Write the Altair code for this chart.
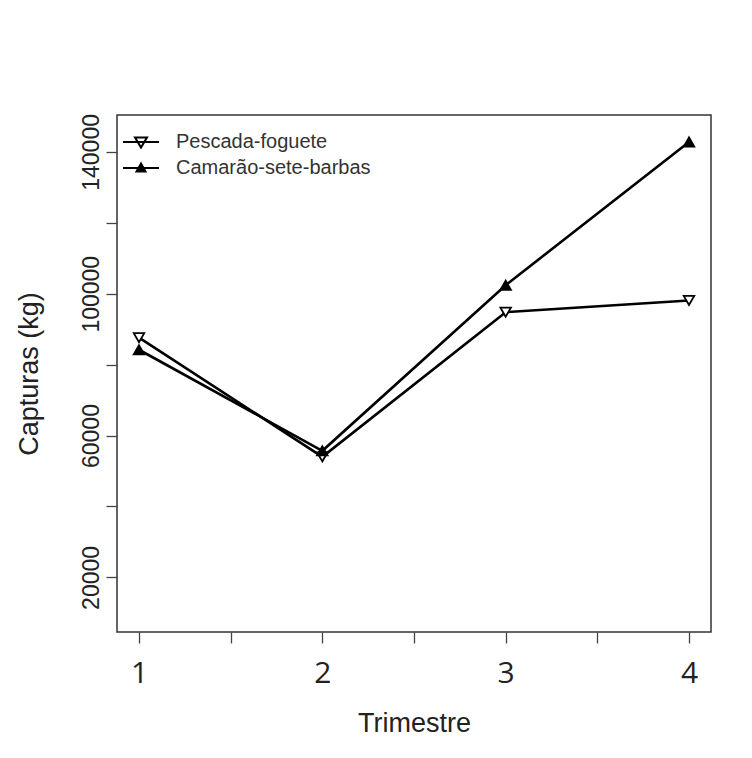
import altair as alt
import pandas as pd

trimestre = [1, 2, 3, 4]
pescada = [87600, 54000, 94800, 98100]
camarao = [84200, 55700, 102400, 142800]
series = ["Pescada-foguete", "Camarão-sete-barbas"]

y_ticks = [20000, 40000, 60000, 80000, 100000, 120000, 140000]
x_ticks = [1, 1.5, 2, 2.5, 3, 3.5, 4]

rows = []
for t, v in zip(trimestre, pescada):
    rows.append({"Trimestre": t, "Capturas": v, "Serie": series[0]})
for t, v in zip(trimestre, camarao):
    rows.append({"Trimestre": t, "Capturas": v, "Serie": series[1]})
df = pd.DataFrame(rows)

xs = alt.Scale(domain=[0.88, 4.12], nice=False, zero=False)
ys = alt.Scale(domain=[4600, 150400], nice=False, zero=False)

x_enc = alt.X(
    "Trimestre:Q", scale=xs, title="Trimestre",
    axis=alt.Axis(values=x_ticks, labelExpr="datum.value % 1 == 0 ? datum.value : ''",
                  grid=False, domain=False, tickSize=11, tickColor="#444", tickWidth=1.3,
                  labelFont="Open Sans", labelFontSize=30, labelColor="#222", labelPadding=15,
                  titleFont="Liberation Sans", titleFontSize=27, titleFontWeight="normal",
                  titleColor="#222", titlePadding=22),
)
y_enc = alt.Y(
    "Capturas:Q", scale=ys, title="Capturas (kg)",
    axis=alt.Axis(values=y_ticks, format="d",
                  labelExpr="datum.value % 40000 == 20000 ? datum.label : ''",
                  labelAngle=-90, grid=False, domain=False, tickSize=11, tickColor="#444",
                  tickWidth=1.3, labelFont="Liberation Sans", labelFontSize=23,
                  labelColor="#222", labelPadding=3, labelAlign="center", labelBaseline="bottom",
                  titleFont="Liberation Sans", titleFontSize=27, titleFontWeight="normal",
                  titleColor="#222", titlePadding=37),
)

lines = alt.Chart(df).mark_line(color="black", strokeWidth=2.6).encode(
    x=x_enc, y=y_enc, detail="Serie:N"
)

points = alt.Chart(df).mark_point(filled=True, stroke="black", strokeWidth=1.8, opacity=1).encode(
    x=x_enc, y=y_enc,
    shape=alt.Shape("Serie:N", scale=alt.Scale(domain=series, range=["triangle-down", "triangle-up"]), legend=None),
    fill=alt.Fill("Serie:N", scale=alt.Scale(domain=series, range=["white", "black"]), legend=None),
    size=alt.value(110),
)

legend_paths = [
    "M-1.8,0L1.8,0M-0.6,-0.45L0.6,-0.45L0,0.55Z",
    "M-1.8,0L1.8,0M-0.45,0.35L0.45,0.35L0,-0.45Z",
]
leg = alt.Legend(
    title=None, orient="none", legendX=13, legendY=16, padding=0,
    labelOffset=24, symbolSize=400, rowPadding=5, labelFontSize=20, labelLimit=0,
    labelFont="Liberation Sans", labelColor="#333",
    symbolStrokeWidth=2, symbolOpacity=1,
)
legend_layer = alt.Chart(df).transform_filter("false").mark_point(
    filled=True, strokeWidth=2, opacity=1
).encode(
    x=x_enc, y=y_enc,
    shape=alt.Shape("Serie:N", scale=alt.Scale(domain=series, range=legend_paths), legend=leg),
    fill=alt.Fill("Serie:N", scale=alt.Scale(domain=series, range=["white", "black"]), legend=leg),
    stroke=alt.Stroke("Serie:N", scale=alt.Scale(domain=series, range=["black", "black"]), legend=leg),
)

chart = alt.layer(lines, points, legend_layer).resolve_scale(
    shape="independent", fill="independent", stroke="independent"
).properties(
    width=594, height=517,
    padding={"left": 117, "top": 115, "right": 41, "bottom": 126},
    autosize=alt.AutoSizeParams(type="none"),
    background="white",
).configure_view(stroke="#333", strokeWidth=1.5)

chart.save("out.html", embed_options={"renderer": "svg", "actions": False})
